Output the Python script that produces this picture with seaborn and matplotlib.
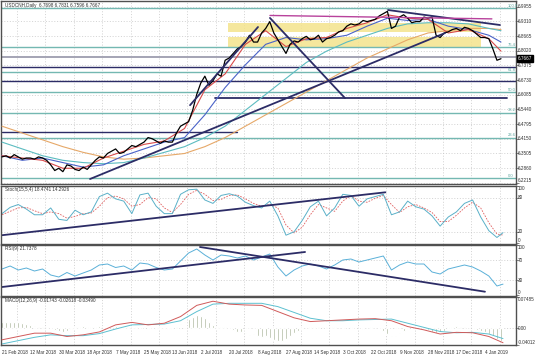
import matplotlib
matplotlib.use("Agg")
import matplotlib.pyplot as plt
import matplotlib.patches as mpatches
import seaborn as sns

sns.set_style("white")
plt.rcParams['font.family'] = ['Liberation Sans', 'DejaVu Sans']

# x axis = daily bar number, bar 0 = 21 Feb 2018
date_labels = ["21 Feb 2018", "12 Mar 2018", "30 Mar 2018", "18 Apr 2018", "7 May 2018",
               "25 May 2018", "13 Jun 2018", "2 Jul 2018", "20 Jul 2018", "8 Aug 2018",
               "27 Aug 2018", "14 Sep 2018", "3 Oct 2018", "22 Oct 2018", "9 Nov 2018",
               "28 Nov 2018", "17 Dec 2018", "4 Jan 2019"]
date_bars = list(range(0, 239, 14))

# closes, every 2nd bar
price_bars = list(range(0, 247, 2))
close = [6.335, 6.340, 6.330, 6.345, 6.335, 6.325, 6.330,
         6.330, 6.325, 6.335, 6.330, 6.320, 6.300, 6.275,
         6.285, 6.270, 6.300, 6.295, 6.280, 6.275, 6.290,
         6.280, 6.300, 6.320, 6.335, 6.330, 6.350, 6.360,
         6.370, 6.350, 6.355, 6.370, 6.385, 6.380, 6.390,
         6.400, 6.420, 6.415, 6.405, 6.395, 6.405, 6.400,
         6.400, 6.440, 6.470, 6.480, 6.490, 6.540, 6.610,
         6.660, 6.690, 6.650, 6.670, 6.700, 6.690, 6.760,
         6.770, 6.790, 6.810, 6.820, 6.840, 6.870, 6.840,
         6.840, 6.880, 6.900, 6.930, 6.880, 6.850, 6.820,
         6.790, 6.830, 6.845, 6.840, 6.855, 6.865, 6.850,
         6.855, 6.870, 6.840, 6.855, 6.860, 6.870, 6.885,
         6.890, 6.910, 6.920, 6.915, 6.920, 6.935, 6.930,
         6.935, 6.940, 6.955, 6.965, 6.975, 6.900, 6.910,
         6.950, 6.960, 6.945, 6.925, 6.930, 6.930, 6.950,
         6.945, 6.950, 6.870, 6.860, 6.880, 6.885, 6.895,
         6.900, 6.890, 6.905, 6.900, 6.890, 6.875, 6.860,
         6.860, 6.855, 6.810, 6.760, 6.7667]

# moving averages, every 10th bar
ma_bars = list(range(0, 241, 10)) + [246]
ma_fast = [6.34, 6.33, 6.32, 6.285, 6.285, 6.33, 6.36, 6.39, 6.405, 6.46, 6.63, 6.70, 6.83,
           6.89, 6.82, 6.855, 6.86, 6.90, 6.925, 6.96, 6.945, 6.94, 6.88, 6.895, 6.855, 6.80]
ma_mid = [6.34, 6.32, 6.33, 6.31, 6.29, 6.30, 6.34, 6.37, 6.40, 6.42, 6.52, 6.64, 6.74,
          6.83, 6.86, 6.85, 6.855, 6.87, 6.91, 6.945, 6.935, 6.94, 6.91, 6.895, 6.87, 6.84]
ma_slow = [6.40, 6.37, 6.34, 6.32, 6.31, 6.305, 6.31, 6.33, 6.355, 6.38, 6.42, 6.47, 6.54,
           6.61, 6.68, 6.75, 6.80, 6.84, 6.87, 6.90, 6.92, 6.925, 6.925, 6.92, 6.90, 6.89]
ma_long = [6.47, 6.44, 6.41, 6.38, 6.355, 6.335, 6.325, 6.33, 6.34, 6.35, 6.38, 6.42, 6.47,
           6.52, 6.57, 6.62, 6.67, 6.72, 6.77, 6.81, 6.85, 6.88, 6.89, 6.90, 6.90, 6.895]

fib_names = ["0.0", "23.6", "38.2", "50.0", "61.8", "76.4", "100.0"]
fib_prices = [6.2423, 6.4197, 6.5295, 6.6183, 6.7070, 6.8167, 6.9900]

# drawn objects: (bar, bar), (price, price)
trend_long = ([43.4, 218.4], [6.2378, 6.8797])
trend_drop = ([132.1, 169.1], [6.946, 6.5935])
trend_june = ([92.7, 126.2], [6.5624, 6.9062])
trend_top = ([190.3, 245.5], [6.981, 6.915])
line_magenta = ([132.1, 241.5], [6.957, 6.942])
hline_gray = 6.7743
hline_full = [6.7303, 6.6688]
hline_right = ([105, 249], 6.5962)
hline_left = ([0, 116], 6.4445)
zone_bars = [111.4, 236.0]
zone_upper = [6.885, 6.922]
zone_lower = [6.818, 6.862]

# oscillators, every 4th bar
osc_bars = list(range(0, 245, 4)) + [247]
stoch_k = [52, 63, 68, 60, 50, 50, 62, 42, 40, 58, 50, 55, 82, 88, 78, 74, 52, 85, 88, 65,
           52, 52, 86, 94, 95, 76, 70, 84, 87, 83, 72, 66, 62, 74, 48, 14, 20, 40, 64, 74,
           48, 62, 86, 84, 65, 78, 82, 86, 50, 55, 74, 64, 60, 48, 30, 46, 55, 70, 76, 46,
           22, 10, 18.47]
stoch_d = [50, 56, 62, 63, 57, 52, 55, 52, 44, 47, 52, 53, 65, 80, 83, 78, 65, 68, 80, 78,
           62, 54, 68, 86, 93, 86, 75, 77, 84, 85, 78, 70, 65, 68, 62, 32, 18, 28, 50, 68,
           62, 56, 74, 84, 74, 72, 79, 84, 68, 54, 64, 68, 62, 54, 38, 38, 49, 62, 72, 62,
           36, 16, 14.29]
stoch_trend = ([0, 189], [14, 89.5])
rsi = [52, 58, 50, 54, 48, 52, 40, 36, 45, 38, 44, 50, 60, 62, 55, 58, 50, 64, 62, 55,
       50, 52, 68, 84, 92, 80, 70, 80, 78, 74, 78, 70, 76, 82, 56, 38, 50, 58, 62, 58,
       52, 60, 70, 72, 66, 70, 74, 78, 50, 60, 66, 62, 62, 46, 42, 52, 56, 60, 56, 48,
       38, 18, 21.74]
rsi_trend_up = ([0, 149.4], [16, 86])
rsi_trend_down = ([97.6, 238.1], [96, 6.6])

# MACD
macd_bars = list(range(0, 241, 8)) + [247]
macd_main = [-0.028, -0.020, -0.012, -0.012, -0.020, -0.016, -0.009, 0.008, 0.014, 0.008,
             0.012, 0.028, 0.055, 0.065, 0.058, 0.056, 0.055, 0.040, 0.025, 0.016, 0.018,
             0.020, 0.022, 0.023, 0.018, 0.004, -0.004, -0.014, -0.010, -0.011, -0.020, -0.035]
macd_signal = [-0.038, -0.030, -0.022, -0.016, -0.018, -0.018, -0.013, -0.002, 0.008, 0.009,
               0.010, 0.018, 0.040, 0.058, 0.060, 0.060, 0.060, 0.052, 0.038, 0.024, 0.018,
               0.018, 0.020, 0.021, 0.022, 0.012, 0.002, -0.008, -0.011, -0.010, -0.014, -0.025]
hist_bars = list(range(0, 247, 2))
macd_hist = [0.014, 0.015, 0.016, 0.015, 0.014, 0.012, 0.010, 0.008,
             0.006, 0.004, 0.003, 0.002, 0.000,
             -0.004, -0.006, -0.008, -0.006, -0.003,
             0.002, 0.004, 0.005, 0.003,
             0.002, 0.004, 0.006, 0.007, 0.008, 0.007, 0.005, 0.004, 0.003, 0.002, 0.001,
             0.002, 0.001, 0.000, -0.001, 0.001, -0.002, -0.003, -0.003, -0.002, -0.001,
             0.004, 0.010, 0.016, 0.022, 0.028, 0.032, 0.030, 0.024, 0.016,
             0.008, 0.004, 0.003, 0.002, 0.000,
             -0.004, -0.008, -0.010, -0.012, -0.016, -0.014, -0.018, -0.022, -0.020, -0.024,
             -0.028, -0.030, -0.032, -0.026, -0.018, -0.012, -0.006,
             -0.003, 0.000, 0.002, 0.003, 0.004, 0.003, 0.002, 0.003, 0.002, 0.001, 0.000,
             0.001, 0.002, 0.001, 0.000, -0.001, 0.001, 0.002, 0.001, 0.000,
             -0.006, -0.014, -0.020, -0.018, -0.012, -0.006, -0.002,
             0.000, 0.001, 0.000, -0.002, -0.004,
             -0.008, -0.011, -0.010, -0.006,
             0.002, 0.004, 0.005, 0.004, 0.003, 0.001,
             -0.002, -0.004, -0.006, -0.008,
             -0.014, -0.020, -0.026, -0.030]

# ---- figure ----
W, H = 536, 358
fig = plt.figure(figsize=(W / 100, H / 100), dpi=100)


def panel(top, bottom):
    return fig.add_axes([1 / W, 1 - bottom / H, 515 / W, (bottom - top) / H])


ax_p = panel(1, 184)
ax_s = panel(185.5, 243.5)
ax_r = panel(244.5, 296)
ax_m = panel(297, 345)
axes = [ax_p, ax_s, ax_r, ax_m]

navy = "#2c2c66"
teal = "#74b8b2"
grid_c = "#c4c4c4"
fs = 3.3
txt_c = "#303030"


def right_labels(ax, ticks, labels, vas):
    ax.set_yticks(ticks)
    ax.set_yticklabels([])
    for v, lab, va in zip(ticks, labels, vas):
        ax.text(1.004, v, lab, transform=ax.get_yaxis_transform(), fontsize=fs,
                va=va, ha="left", color=txt_c)


for ax in axes:
    ax.set_xlim(-0.5, 253.4)
    for s in ax.spines.values():
        s.set_color("#505050")
        s.set_linewidth(1.0)
    for k in range(18):
        ax.axvline(7.4 + 14 * k, color=grid_c, lw=0.5, ls=(0, (1.5, 2.5)), zorder=0)
    ax.yaxis.tick_right()
    ax.tick_params(axis="y", length=2, width=0.5, colors="#505050")
    ax.tick_params(axis="x", length=0, labelbottom=False)

# main price panel
ax_p.set_ylim(6.2158, 7.0206)
price_ticks = [6.2215 + 0.0645 * k for k in range(13)]
right_labels(ax_p, price_ticks, [f"{v:.4f}" for v in price_ticks],
             ["bottom"] + ["center"] * 12)
for v in price_ticks:
    ax_p.axhline(v, color=grid_c, lw=0.5, ls=(0, (1.5, 2.5)), zorder=0)

for lo, hi in (zone_upper, zone_lower):
    ax_p.add_patch(mpatches.Rectangle((zone_bars[0], lo), zone_bars[1] - zone_bars[0], hi - lo,
                                      facecolor="#f4e38c", edgecolor="none", alpha=0.85, zorder=1))

for name, lvl in zip(fib_names, fib_prices):
    ax_p.axhline(lvl, color=teal, lw=1.0, zorder=2)
    ax_p.text(249.3, lvl + 0.002, name, color="#5ca59e", fontsize=3.0, ha="left", va="bottom")

ax_p.axhline(hline_gray, color="#a4a4b4", lw=1.4, zorder=2)
for lvl in hline_full:
    ax_p.axhline(lvl, color=navy, lw=1.0, zorder=2)
ax_p.plot(hline_right[0], [hline_right[1]] * 2, color=navy, lw=1.3, zorder=2)
ax_p.plot(hline_left[0], [hline_left[1]] * 2, color=navy, lw=1.0, zorder=2)

sns.lineplot(x=ma_bars, y=ma_long, ax=ax_p, color="#e6a868", lw=0.8, zorder=3)
sns.lineplot(x=ma_bars, y=ma_slow, ax=ax_p, color="#5cbcc0", lw=0.8, zorder=3)
sns.lineplot(x=ma_bars, y=ma_mid, ax=ax_p, color="#4a62c8", lw=0.8, zorder=3)
sns.lineplot(x=ma_bars, y=ma_fast, ax=ax_p, color="#d84a4a", lw=0.8, zorder=3)
sns.lineplot(x=price_bars, y=close, ax=ax_p, color="black", lw=0.9, zorder=4)

for xs, ys in (trend_long, trend_drop, trend_june, trend_top):
    ax_p.plot(xs, ys, color=navy, lw=1.3, zorder=5)
ax_p.plot(line_magenta[0], line_magenta[1], color="#b8429c", lw=1.0, zorder=5)

ax_p.text(1.5, 7.013, "USDCNH,Daily  6.7698 6.7831 6.7596 6.7667", fontsize=fs, va="top", ha="left",
          color=txt_c)
ax_p.text(1.004, close[-1], f"{close[-1]:.4f}", transform=ax_p.get_yaxis_transform(), fontsize=fs,
          color="white", va="center", ha="left", zorder=6,
          bbox=dict(boxstyle="square,pad=0.2", fc="black", ec="black"))

# stochastic
ax_s.set_ylim(-0.6, 101.5)
right_labels(ax_s, [0, 20, 80, 100], ["0", "20", "80", "100"], ["bottom", "center", "center", "top"])
for v in (20, 80):
    ax_s.axhline(v, color=grid_c, lw=0.5, ls=(0, (1.5, 2.5)), zorder=0)
sns.lineplot(x=osc_bars, y=stoch_d, ax=ax_s, color="#e06060", lw=0.6, ls=(0, (2, 1.5)))
sns.lineplot(x=osc_bars, y=stoch_k, ax=ax_s, color="#5ab0c8", lw=0.7)
ax_s.plot(stoch_trend[0], stoch_trend[1], color=navy, lw=1.3)
ax_s.text(1.5, 99, "Stoch(15,5,4) 18.4741 14.2926", fontsize=fs, va="top", ha="left", color=txt_c)

# RSI
ax_r.set_ylim(-2, 101)
right_labels(ax_r, [0, 30, 70, 100], ["0", "30", "70", "100"], ["bottom", "center", "center", "top"])
for v in (30, 70):
    ax_r.axhline(v, color=grid_c, lw=0.5, ls=(0, (1.5, 2.5)), zorder=0)
sns.lineplot(x=osc_bars, y=rsi, ax=ax_r, color="#5ab0d8", lw=0.7)
ax_r.plot(rsi_trend_up[0], rsi_trend_up[1], color=navy, lw=1.3)
ax_r.plot(rsi_trend_down[0], rsi_trend_down[1], color=navy, lw=1.3)
ax_r.text(1.5, 98, "RSI(9) 21.7378", fontsize=fs, va="top", ha="left", color=txt_c)

# MACD
ax_m.set_ylim(-0.0405, 0.0752)
right_labels(ax_m, [-0.04012, 0.0, 0.07485], ["-0.04012", "0.00", "0.07485"], ["bottom", "center", "top"])
ax_m.axhline(0, color=grid_c, lw=0.5, ls=(0, (1.5, 2.5)), zorder=0)
ax_m.bar(hist_bars, macd_hist, width=0.9, color="#a3b094", zorder=1)
sns.lineplot(x=macd_bars, y=macd_signal, ax=ax_m, color="#5cc0d0", lw=0.7, zorder=2)
sns.lineplot(x=macd_bars, y=macd_main, ax=ax_m, color="#d05a5a", lw=0.7, zorder=3)
ax_m.text(1.5, 0.0735, "MACD(12,26,9) -0.01743 -0.02618 -0.03490", fontsize=fs, va="top", ha="left",
          color=txt_c)

ax_m.set_xticks(date_bars)
ax_m.set_xticklabels(date_labels, ha="left")
ax_m.tick_params(axis="x", labelbottom=True, labelsize=fs, pad=3.5, colors=txt_c)

for ax in axes:
    ax.set_xlabel("")
    ax.set_ylabel("")

fig.savefig("out.png", dpi=100, facecolor="white")
